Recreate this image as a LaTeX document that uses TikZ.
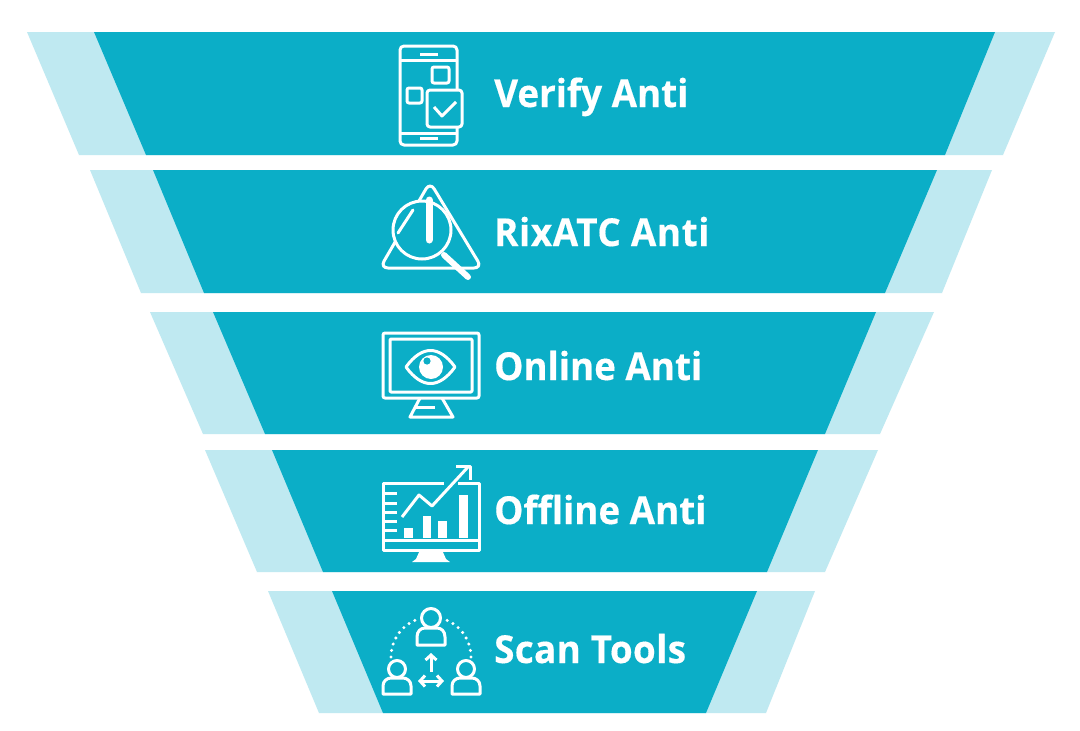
\documentclass[tikz,border=0pt]{standalone}
\usepackage{fontspec}
\setmainfont[FakeStretch=0.955]{Open Sans}
\usetikzlibrary{arrows.meta}
\definecolor{bandteal}{HTML}{0BAEC7}
\definecolor{bandpale}{HTML}{BFE9F1}
\tikzset{
  lightband/.style={fill=bandpale,draw=none},
  darkband/.style={fill=bandteal,draw=none},
  bandlabel/.style={anchor=base west,inner sep=0pt,text=white,font=\bfseries\fontsize{38.5}{40}\selectfont\addfontfeature{FakeBold=0.4}},
  iconline/.style={draw=white,line width=3pt,line join=round},
  iconmask/.style={iconline,fill=bandteal},
  iconsolid/.style={fill=white,draw=none},
  icondots/.style={draw=white,line width=3.4pt,line cap=round,dash pattern=on 0pt off 6.6pt},
  iconarrow/.style={draw=white,line width=3pt,{Straight Barb[length=5pt,width=11pt]}-{Straight Barb[length=5pt,width=11pt]}}
}
\begin{document}
\begin{tikzpicture}[x=1pt,y=-1pt]
\useasboundingbox[fill=white] (0,0) rectangle (1080,731);
\fill[lightband] (27,32) -- (1055,32) -- (1003,155) -- (79,155) -- cycle;
\fill[darkband] (94,32) -- (995,32) -- (945,155) -- (146,155) -- cycle;
\fill[lightband] (90,170) -- (992,170) -- (942,293) -- (141,293) -- cycle;
\fill[darkband] (153,170) -- (937,170) -- (885,293) -- (204,293) -- cycle;
\fill[lightband] (150,312) -- (934,312) -- (880,434) -- (203,434) -- cycle;
\fill[darkband] (213,312) -- (876,312) -- (825,434) -- (265,434) -- cycle;
\fill[lightband] (205,450) -- (878,450) -- (825,572) -- (257,572) -- cycle;
\fill[darkband] (272,450) -- (818,450) -- (767,572) -- (323,572) -- cycle;
\fill[lightband] (268,591) -- (815,591) -- (766,713) -- (319,713) -- cycle;
\fill[darkband] (332,591) -- (757,591) -- (706,713) -- (383,713) -- cycle;
\node[bandlabel] (verify) at (494,107) {Verify Anti};
\node[bandlabel] (rixatc) at (494,246) {\addfontfeature{LetterSpace=1.6}RixATC Anti};
\node[bandlabel] (online) at (494,380) {Online Anti};
\node[bandlabel] (offline) at (494,524) {Offline Anti};
\node[bandlabel] (scan) at (494,663) {\addfontfeature{LetterSpace=1}Scan Tools};
\draw[iconline,rounded corners=4pt] (400,46) rectangle (457,145);
\draw[iconline] (400,60) -- (457,60);
\draw[iconline] (400,133) -- (457,133);
\draw[iconline] (420,54) -- (438,54);
\draw[iconline] (420,138) -- (438,138);
\draw[iconline,rounded corners=2pt] (432,67) rectangle (449,83);
\draw[iconmask,rounded corners=2pt] (407,88) rectangle (422,103);
\draw[iconmask,rounded corners=3pt] (427,90) rectangle (462,127);
\draw[iconline] (434,107) -- (442,116) -- (456,102);
\draw[iconline,rounded corners=8pt] (430,182) -- (482,268) -- (380,268) -- cycle;
\draw[iconmask] (422,230) circle (29);
\draw[draw=white,line width=6pt,line cap=round] (444,255) -- (468,277);
\draw[draw=white,line width=7pt,line cap=round] (429,200) -- (429,240);
\draw[iconline,line cap=round] (413,210) -- (398,233);
\draw[iconline,rounded corners=2pt] (383,333) rectangle (479,398);
\draw[iconline,rounded corners=1pt] (390,339) rectangle (472,392);
\draw[iconline] (420,398) -- (410,417) -- (453,417) -- (442,398);
\draw[iconline] (416,407) -- (435,407);
\draw[iconline] (406,367) .. controls (422,345) and (439,345) .. (455,367) .. controls (439,389) and (422,389) .. (406,367) -- cycle;
\fill[iconsolid] (431,367) circle (12);
\fill[bandteal] (427,361) circle (3.6);
\draw[iconline] (444,483) -- (479,483) -- (479,550) -- (383,550) -- (383,483) -- (444,483);
\fill[bandteal] (444,478) rectangle (458,488);
\draw[iconline] (383,540) -- (479,540);
\draw[iconline] (383,493) -- (397,493);
\draw[iconline] (383,503) -- (397,503);
\draw[iconline] (383,512) -- (397,512);
\draw[iconline] (383,521) -- (397,521);
\draw[iconline] (383,530) -- (397,530);
\draw[iconline] (402,517) -- (419,495) -- (432,506) -- (468,467);
\draw[iconline] (456,466) -- (470,466) -- (470,480);
\fill[iconsolid] (404,528) rectangle (413,538);
\fill[iconsolid] (423,516) rectangle (431,538);
\fill[iconsolid] (438,521) rectangle (447,538);
\fill[iconsolid] (459,495) rectangle (468,538);
\fill[iconsolid] (420,550) -- (442,550) -- (446,559) -- (450,562) -- (412,562) -- (416,559) -- cycle;
\draw[iconline] (431,618) circle (9.5);
\draw[iconline] (417,645) -- (417,637) .. controls (417,631) and (421,628) .. (425,628) -- (437,628) .. controls (441,628) and (445,631) .. (445,637) -- (445,645) -- cycle;
\draw[iconline] (397,669) circle (8.5);
\draw[iconline] (383,694) -- (383,686) .. controls (383,681) and (387,678) .. (391,678) -- (403,678) .. controls (407,678) and (411,681) .. (411,686) -- (411,694) -- cycle;
\draw[iconline] (466,669) circle (8.5);
\draw[iconline] (452,694) -- (452,686) .. controls (452,681) and (456,678) .. (460,678) -- (472,678) .. controls (476,678) and (480,681) .. (480,686) -- (480,694) -- cycle;
\draw[icondots] (391,657) arc[start angle=180,end angle=250,radius=40];
\draw[icondots] (471,657) arc[start angle=0,end angle=-70,radius=40];
\draw[iconarrow,{Straight Barb[length=5pt,width=11pt]}-] (431,653) -- (431,672);
\draw[iconarrow] (418,681) -- (444,681);
\end{tikzpicture}
\end{document}
